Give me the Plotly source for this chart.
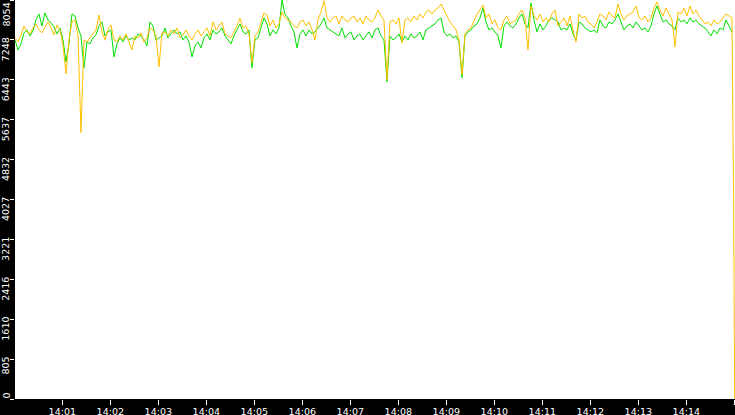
import pandas as pd
import plotly.graph_objects as go

# sample times: one reading every 3.75 s starting just after 14:00
start_time = "2024-01-01 14:00:00.875"
n_samples = 240

orange_values = [
    7289, 7208, 7349, 7531, 7410, 7369, 7490, 7571, 7450, 7390,
    7510, 7611, 7490, 7349, 7551, 7450, 7148, 6564, 7248, 7611,
    7651, 7349, 5376, 7248, 7208, 7289, 7390, 7450, 7752, 7410,
    7248, 7450, 7551, 7248, 7208, 7329, 7248, 7369, 7208, 7047,
    7329, 7289, 7390, 7208, 7289, 7490, 7450, 7329, 6705, 7390,
    7410, 7329, 7450, 7369, 7490, 7289, 7349, 7450, 7329, 7248,
    7369, 7450, 7329, 7410, 7490, 7329, 7611, 7450, 7531, 7611,
    7369, 7329, 7289, 7410, 7531, 7692, 7490, 7531, 7369, 6786,
    7329, 7410, 7611, 7792, 7752, 7531, 7651, 7490, 7571, 7812,
    7692, 7651, 7611, 7531, 7490, 7611, 7651, 7531, 7611, 7450,
    7248, 7651, 7812, 8040, 7692, 7611, 7692, 7732, 7571, 7732,
    7651, 7611, 7692, 7732, 7611, 7692, 7571, 7732, 7651, 7611,
    7692, 7853, 7732, 7651, 6443, 7611, 7651, 7571, 7692, 7188,
    7651, 7692, 7611, 7732, 7651, 7772, 7692, 7812, 7853, 7772,
    7853, 7893, 7973, 7853, 7732, 7611, 7531, 7450, 7248, 6544,
    7369, 7450, 7490, 7651, 7772, 7853, 7953, 7692, 7772, 7571,
    7651, 7490, 7450, 7651, 7732, 7571, 7611, 7651, 7772, 7853,
    7692, 7047, 7933, 7732, 7651, 7772, 7611, 7692, 7611, 7772,
    7853, 7531, 7611, 7692, 7531, 7732, 7450, 7208, 7772, 7692,
    7732, 7611, 7571, 7490, 7611, 7772, 7732, 7651, 7812, 7732,
    7692, 7973, 7772, 7651, 7732, 7772, 7812, 7933, 7692, 7651,
    7732, 7611, 7692, 7893, 8014, 7853, 7732, 7893, 7772, 7651,
    7108, 7812, 7772, 7893, 7732, 7933, 7772, 7853, 7732, 7651,
    7571, 7611, 7531, 7651, 7571, 7611, 7692, 7772, 7732, 7692,
]

green_values = [
    7248, 7047, 7168, 7390, 7450, 7329, 7430, 7651, 7772, 7531,
    7792, 7651, 7591, 7510, 7369, 7490, 7248, 6806, 7168, 7772,
    7732, 7490, 7329, 6685, 7208, 7168, 7289, 7349, 7531, 7611,
    7329, 7410, 7450, 6906, 7168, 7289, 7208, 7329, 7248, 7289,
    7248, 7369, 7329, 7248, 7128, 7611, 7531, 7248, 7289, 7329,
    7490, 7289, 7369, 7450, 7369, 7410, 7248, 7329, 7208, 6906,
    7128, 7208, 7087, 7289, 7369, 7248, 7450, 7369, 7410, 7490,
    7329, 7248, 7168, 7329, 7450, 7571, 7410, 7369, 7450, 6685,
    7248, 7289, 7490, 7692, 7571, 7329, 7450, 7369, 7490, 8054,
    7772, 7692, 7531, 7410, 7087, 7369, 7450, 7329, 7450, 7369,
    7410, 7490, 7571, 7692, 7490, 7450, 7410, 7369, 7329, 7490,
    7289, 7369, 7410, 7248, 7329, 7369, 7248, 7329, 7410, 7289,
    7450, 7490, 7329, 7248, 6403, 7329, 7248, 7289, 7369, 7208,
    7329, 7248, 7369, 7289, 7329, 7410, 7248, 7450, 7490, 7531,
    7571, 7651, 7692, 7410, 7329, 7369, 7289, 7329, 7208, 6484,
    7329, 7410, 7450, 7531, 7571, 7692, 7893, 7611, 7450, 7490,
    7410, 7329, 7087, 7531, 7611, 7531, 7490, 7571, 7692, 7772,
    7571, 7490, 7994, 7651, 7410, 7571, 7450, 7531, 7651, 7692,
    7651, 7611, 7450, 7490, 7450, 7571, 7369, 7248, 7611, 7571,
    7490, 7450, 7410, 7450, 7390, 7651, 7531, 7490, 7611, 7571,
    7651, 7772, 7611, 7450, 7531, 7571, 7490, 7611, 7531, 7450,
    7490, 7410, 7531, 7772, 7933, 7772, 7611, 7651, 7571, 7531,
    7450, 7692, 7611, 7651, 7571, 7692, 7611, 7651, 7571, 7531,
    7490, 7410, 7329, 7450, 7369, 7490, 7450, 7651, 7531, 7410,
]

# final readings of the orange series (drop at the end)
orange_tail_times = ["2024-01-01 14:14:59.25", "2024-01-01 14:15:00.5"]
orange_tail_values = [3846, 0]

y_tick_labels = ["0", "805", "1610", "2416", "3221", "4027",
                 "4832", "5637", "6443", "7248", "8054"]
y_max = 8054

times = list(pd.date_range(start=start_time, periods=n_samples, freq="3750ms"))
orange_times = times + list(pd.to_datetime(orange_tail_times))
orange_all = orange_values + orange_tail_values
y_tick_vals = [y_max * k / 10 for k in range(len(y_tick_labels))]

fig = go.Figure()
fig.add_trace(go.Scatter(x=times, y=green_values, mode="lines",
                         line=dict(color="#00e000", width=1), hoverinfo="skip"))
fig.add_trace(go.Scatter(x=orange_times, y=orange_all, mode="lines",
                         line=dict(color="#ffc000", width=1), hoverinfo="skip"))

tick_font = dict(family="DejaVu Sans", size=9.5, color="white")

# y tick labels: rotated, hanging just below each tick
n_lab = len(y_tick_labels)
for k, (v, t) in enumerate(zip(y_tick_vals, y_tick_labels)):
    if k == 0:
        anchor, shift = "bottom", -1
    elif k == n_lab - 1:
        anchor, shift = "top", -2
    else:
        anchor, shift = "top", 3
    fig.add_annotation(x=0, xref="paper", y=v, yref="y", text=t,
                       textangle=-90, showarrow=False,
                       xanchor="right", yanchor=anchor,
                       xshift=-3, yshift=shift, borderpad=0,
                       font=tick_font)

fig.update_layout(
    width=735, height=415,
    margin=dict(l=15, r=0, t=0, b=16, pad=0),
    paper_bgcolor="black", plot_bgcolor="white",
    showlegend=False,
    xaxis=dict(type="date", automargin=False,
               range=["2024-01-01 14:00:00.9", "2024-01-01 14:15:00.9"],
               dtick=60000, tick0="2024-01-01 14:00:00", tickformat="%H:%M",
               showgrid=False, zeroline=False, showline=False,
               ticks="outside", ticklen=5, tickcolor="white", tickwidth=1,
               ticklabelstandoff=-1,
               tickfont=tick_font),
    yaxis=dict(range=[0, y_max], automargin=False,
               tickvals=y_tick_vals, showticklabels=False,
               showgrid=False, zeroline=False, showline=False,
               ticks="outside", ticklen=4, tickcolor="white", tickwidth=1),
)

fig.write_html(
    "out.html",
    config={"displayModeBar": False, "staticPlot": True},
    post_script="document.body.style.margin='0';document.body.style.padding='0';"
                "document.body.style.overflow='hidden';document.body.style.background='black';",
)
